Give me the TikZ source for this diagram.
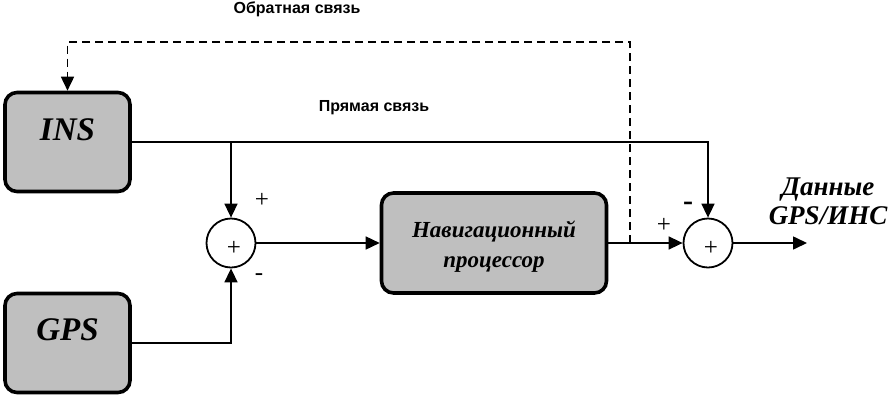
\documentclass[tikz,border=0pt]{standalone}
\usepackage{fontspec}
\setmainfont{Liberation Serif}
\newfontfamily\labelfont{Liberation Sans}
\usetikzlibrary{arrows.meta}

\tikzset{
  block/.style={draw, line width=3.6pt, rounded corners=12pt, fill=black!25,
    minimum width=125pt, minimum height=99pt, inner sep=0pt},
  blocktext/.style={font=\fontsize{33}{38}\selectfont\bfseries\itshape},
  summer/.style={draw, circle, line width=1.8pt, minimum size=49pt, inner sep=0pt, fill=white},
  sign/.style={font=\fontsize{25}{27}\selectfont, inner sep=0pt},
  link/.style={line width=1.6pt, -{Triangle[length=14pt,width=13pt]}},
  linklabel/.style={font=\fontsize{16}{19}\selectfont\labelfont\bfseries}
}

\begin{document}
\begin{tikzpicture}[x=1pt, y=-1pt]
  \useasboundingbox (0,0) rectangle (890,402);

  % 1. блоки
  \node[block, label={[blocktext, yshift=12pt]center:INS}] (ins) at (67.5,142) {};
  \node[block, label={[blocktext, yshift=13pt]center:GPS}] (gps) at (67.5,343) {};
  \node[block, minimum width=225pt, minimum height=100pt,
        label={[align=center, yshift=-4pt, font=\fontsize{23}{30}\selectfont\bfseries\itshape]center:Навигационный\\процессор}]
        (nav) at (494,243) {};

  % 2. сумматоры
  \node[summer, label={[sign, xshift=3pt, yshift=-5pt]center:+}] (sum1) at (231,243) {};
  \node[summer, label={[sign, xshift=3pt, yshift=-5pt]center:+}] (sum2) at (708,243) {};

  % 3. прямая связь
  \draw[link] (ins.east) -| (sum2.north);
  \draw[link] (ins.east -| sum1.north) -- (sum1.north);
  \draw[link] (gps.east) -| (sum1.south);
  \draw[link] (sum1.east) -- (nav.west);
  \draw[link] (nav.east |- sum2.west) -- (sum2.west);

  % 4. выход
  \coordinate (out) at (807,243);
  \draw[link] (sum2.east) -- (out);

  % 5. обратная связь (пунктир)
  \coordinate (fb) at (630,243);
  \coordinate (fbtop) at (630,42);
  \draw[link, dash pattern=on 8pt off 5pt] (fb) -- (fbtop) -| (ins.north);

  % 6. подписи
  \node[linklabel] (fblabel) at (297,9) {Обратная связь};
  \node[linklabel] (fwlabel) at (374,108) {Прямая связь};
  \node[sign] (p1) at (262,200) {+};
  \node[sign] (m1) at (259,277) {-};
  \node[sign] (p2) at (664,225) {+};
  \node[sign, font=\fontsize{30}{30}\selectfont\bfseries] (m2) at (688,206) {-};
  \node[align=center, font=\fontsize{27}{29}\selectfont\bfseries\itshape] (data) at (828,201)
    {Данные\\GPS/ИНС};
\end{tikzpicture}
\end{document}
